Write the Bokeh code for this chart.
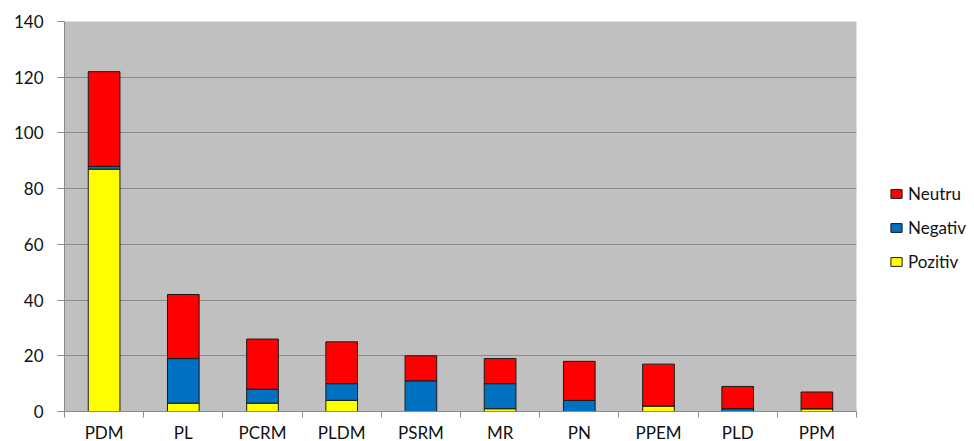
from bokeh.plotting import figure
from bokeh.models import Range1d, LinearAxis, FixedTicker, Legend, LegendItem
from bokeh.embed import file_html
from bokeh.resources import INLINE

categories = ["PDM", "PL", "PCRM", "PLDM", "PSRM", "MR", "PN", "PPEM", "PLD", "PPM"]
pozitiv = [87, 3, 3, 4, 0, 1, 0, 2, 0, 1]
negativ = [1, 16, 5, 6, 11, 9, 4, 0, 1, 0]
neutru = [34, 23, 18, 15, 9, 9, 14, 15, 8, 6]
y_ticks = [0, 20, 40, 60, 80, 100, 120, 140]

series = ["Pozitiv", "Negativ", "Neutru"]
colors = ["#FFFF00", "#0070C0", "#FF0000"]
n = len(categories)
centers = [i + 0.5 for i in range(n)]
boundaries = list(range(n + 1))
data = {"x": centers, "Pozitiv": pozitiv, "Negativ": negativ, "Neutru": neutru}

FONT = "Lato"

p = figure(x_range=Range1d(0, n), y_range=Range1d(0, 140),
           frame_width=792, frame_height=390,
           output_backend="svg", toolbar_location=None, x_axis_location=None,
           min_border_left=64, min_border_top=21, min_border_bottom=30, min_border_right=0)
p.background_fill_color = "#C0C0C0"
p.border_fill_color = "white"
p.outline_line_color = None

rs = p.vbar_stack(series, x="x", width=0.4, color=colors, source=data,
                  line_color="#1a1a1a", line_width=1)

p.xgrid.grid_line_color = None
p.ygrid.grid_line_color = "#8A8A8A"
p.ygrid.grid_line_width = 1.2
p.ygrid.ticker = FixedTicker(ticks=y_ticks)

p.yaxis.ticker = FixedTicker(ticks=y_ticks)
p.yaxis.axis_line_color = "#8A8A8A"
p.yaxis.major_tick_line_color = "#8A8A8A"
p.yaxis.major_tick_out = 7
p.yaxis.major_tick_in = 0
p.yaxis.minor_tick_line_color = None
p.yaxis.minor_tick_out = 0
p.yaxis.major_label_text_font = FONT
p.yaxis.major_label_text_font_size = "17px"
p.yaxis.major_label_text_color = "#111111"
p.yaxis.major_label_standoff = 14

# category axis: labels at centers, tick marks at category boundaries
x_axis = LinearAxis(ticker=FixedTicker(ticks=centers, minor_ticks=boundaries),
                    major_label_overrides={c: cat for c, cat in zip(centers, categories)})
x_axis.axis_line_color = "#8A8A8A"
x_axis.major_tick_line_color = None
x_axis.minor_tick_line_color = "#8A8A8A"
x_axis.minor_tick_out = 6
x_axis.minor_tick_in = 0
x_axis.major_tick_out = 6
x_axis.major_tick_in = 0
x_axis.major_label_text_font = FONT
x_axis.major_label_text_font_size = "17px"
x_axis.major_label_text_color = "#111111"
x_axis.major_label_standoff = 4
p.add_layout(x_axis, "below")

items = [LegendItem(label=s, renderers=[r]) for s, r in zip(series, rs)][::-1]
legend = Legend(items=items, location=(33, 139), border_line_color=None,
                background_fill_alpha=0, label_text_font=FONT, label_text_color="#111111",
                label_text_font_size="17px", glyph_width=14, glyph_height=11,
                spacing=13, label_standoff=5, padding=0, margin=0)
p.add_layout(legend, "right")

open("out.html", "w").write(file_html(p, INLINE))
